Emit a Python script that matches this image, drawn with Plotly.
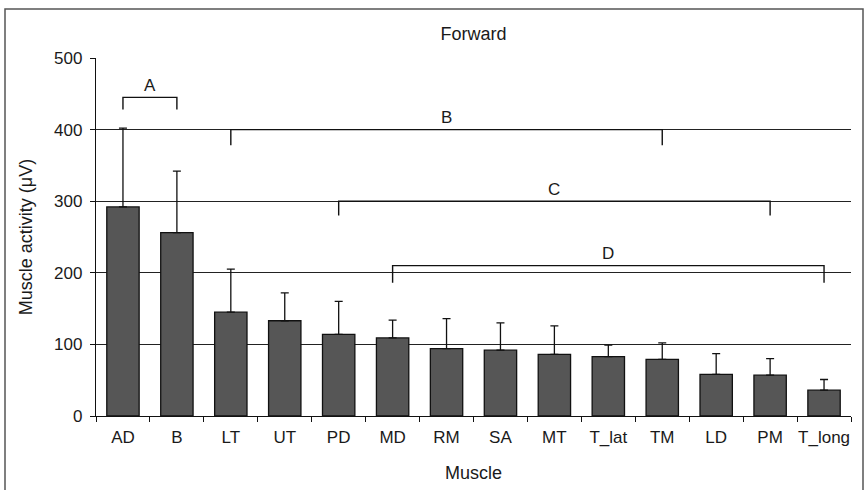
import plotly.graph_objects as go

# ---- data ----
muscles = ["AD", "B", "LT", "UT", "PD", "MD", "RM", "SA", "MT", "T_lat", "TM", "LD", "PM", "T_long"]
activity = [292, 256, 145, 133, 114, 109, 94, 92, 86, 83, 79, 58, 57, 36]
sd_upper = [110, 86, 60, 39, 46, 25, 42, 38, 40, 16, 23, 29, 23, 15]

bracket_labels = ["A", "B", "C", "D"]
bracket_start = ["AD", "LT", "PD", "MD"]
bracket_end = ["B", "TM", "PM", "T_long"]
bracket_height = [445, 400, 300, 210]
bracket_tick_bottom = [428, 378, 280, 186]

y_ticks = [0, 100, 200, 300, 400, 500]

FONT = "Liberation Sans, Arial, sans-serif"
INK = "#1a1a1a"

fig = go.Figure()

fig.add_trace(go.Bar(
    x=muscles, y=activity,
    marker=dict(color="#565656", line=dict(color="#111111", width=1.3)),
    error_y=dict(type="data", symmetric=False, array=sd_upper,
                 arrayminus=[0] * len(sd_upper),
                 color="#111111", thickness=1.3, width=4),
    showlegend=False, hoverinfo="x+y",
))

for lab, s, e, h, tb in zip(bracket_labels, bracket_start, bracket_end,
                             bracket_height, bracket_tick_bottom):
    fig.add_trace(go.Scatter(
        x=[s, s, e, e], y=[tb, h, h, tb], mode="lines",
        line=dict(color="#111111", width=1.4),
        showlegend=False, hoverinfo="skip", cliponaxis=False,
    ))
    i0 = muscles.index(s)
    i1 = muscles.index(e)
    fig.add_annotation(
        x=(i0 + i1) / 2, y=h, xref="x", yref="y",
        text=lab, showarrow=False, yanchor="middle", yshift=12,
        font=dict(family=FONT, size=17, color=INK),
    )

# outer frame
fig.add_shape(type="rect", xref="paper", yref="paper",
              x0=(5 - 96) / 755, x1=(863 - 96) / 755,
              y0=-(500 - 416) / 358, y1=(416 - 9) / 358,
              line=dict(color="#555555", width=1.5), layer="below")

fig.update_layout(
    width=866, height=490,
    margin=dict(l=96, r=15, t=58, b=74, autoexpand=False),
    paper_bgcolor="white", plot_bgcolor="white",
    bargap=0.4,
    font=dict(family=FONT, size=17, color=INK),
    title=dict(text="Forward", x=0.5, xref="paper", xanchor="center",
               y=1 - 34 / 490, yanchor="middle",
               font=dict(family=FONT, size=18, color=INK)),
    xaxis=dict(
        type="category", range=[-0.5, len(muscles) - 0.5],
        showline=True, linecolor="#111111", linewidth=1.3,
        ticks="outside", tickson="boundaries", ticklen=5, tickcolor="#111111",
        showgrid=False, zeroline=False, tickangle=0, automargin=False,
        tickfont=dict(family=FONT, size=17, color=INK),
        ticklabelstandoff=5,
        title=dict(text="Muscle", font=dict(family=FONT, size=18, color=INK), standoff=20),
    ),
    yaxis=dict(
        range=[0, 500], tickvals=y_ticks,
        showline=True, linecolor="#111111", linewidth=1.3,
        ticks="outside", ticklen=5, tickcolor="#111111",
        showgrid=True, gridcolor="#222222", gridwidth=1.3,
        zeroline=False, automargin=False,
        tickfont=dict(family=FONT, size=17, color=INK),
        ticklabelstandoff=4,
        title=dict(text="Muscle activity (μV)", font=dict(family=FONT, size=18, color=INK), standoff=16),
    ),
)

fig.write_html("out.html",
               config={"displayModeBar": False},
               post_script="document.body.style.margin='0';document.body.style.overflow='hidden';")
